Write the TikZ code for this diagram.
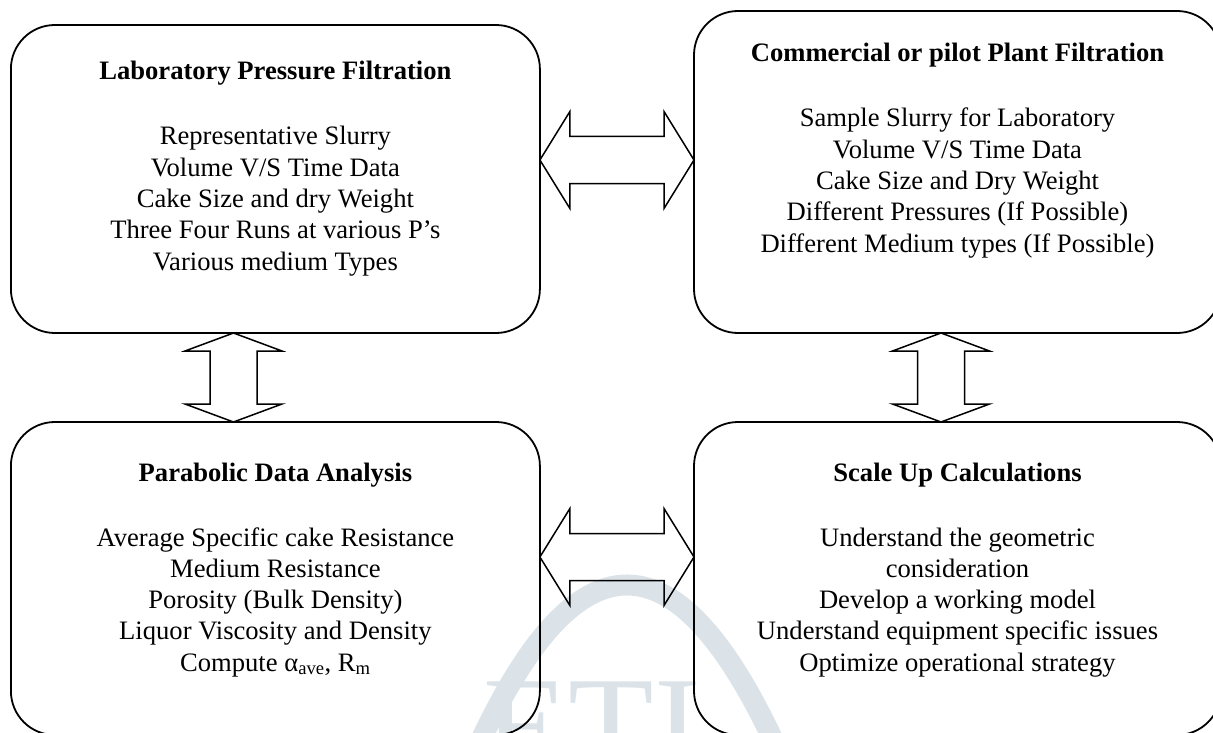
\documentclass[tikz,border=0pt]{standalone}
\usepackage{fontspec}
\setmainfont{Liberation Serif}
\usetikzlibrary{calc}
\definecolor{wmark}{HTML}{DCE3E8}
\begin{document}
\begin{tikzpicture}[x=1pt,y=-1pt,
  box/.style={draw, line width=1.8pt, rounded corners=44pt, outer sep=0pt, inner sep=0pt},
  head/.style={anchor=base, inner sep=0pt, font=\fontsize{26.6pt}{31.3pt}\selectfont\bfseries},
  body/.style={anchor=base, inner sep=0pt, font=\fontsize{26.6pt}{31.3pt}\selectfont},
  blockarrow/.style={draw, line width=1.5pt, line join=miter},
  hdbl/.style={blockarrow, to path={
    -- ($(\tikztostart)+(30,-48.5)$) -- ($(\tikztostart)+(30,-23.5)$)
    -- ($(\tikztotarget)+(-30,-23.5)$) -- ($(\tikztotarget)+(-30,-48.5)$)
    -- (\tikztotarget)
    -- ($(\tikztotarget)+(-30,48.5)$) -- ($(\tikztotarget)+(-30,23.5)$)
    -- ($(\tikztostart)+(30,23.5)$) -- ($(\tikztostart)+(30,48.5)$) -- cycle}},
  vdbl/.style={blockarrow, to path={
    -- ($(\tikztostart)+(48.5,18)$) -- ($(\tikztostart)+(23.5,18)$)
    -- ($(\tikztotarget)+(23.5,-18)$) -- ($(\tikztotarget)+(48.5,-18)$)
    -- (\tikztotarget)
    -- ($(\tikztotarget)+(-48.5,-18)$) -- ($(\tikztotarget)+(-23.5,-18)$)
    -- ($(\tikztostart)+(-23.5,18)$) -- ($(\tikztostart)+(-48.5,18)$) -- cycle}}
]
\useasboundingbox (0,0) rectangle (1213,733);
\clip (0,0) rectangle (1213,733);

% faint logo behind the diagram
\draw[wmark, line width=21pt] (470,764) .. controls (574.7,525.3) and (679.3,525.3) .. (784,764);
\node[wmark, anchor=base, inner sep=0pt, font=\fontsize{140pt}{140pt}\selectfont] (logo) at (592,773) {ETI};

% the four stages
\node[box, minimum width=529pt, minimum height=308pt] (lab)   at (275.4,179) {};
\node[box, minimum width=527pt, minimum height=322pt] (plant) at (957.5,172) {};
\node[box, minimum width=529pt, minimum height=313pt] (para)  at (275.4,578.5) {};
\node[box, minimum width=527pt, minimum height=313pt] (scale) at (957.5,578.5) {};

% texts
\node[head] (lab-h) at (lab.north |- 0,80) {Laboratory Pressure Filtration};
\foreach \t [count=\i] in {Representative Slurry, Volume V/S Time Data,
    Cake Size and dry Weight, Three Four Runs at various P’s, Various medium Types}
  \node[body] (lab-\i) at ($(lab-h.base)+(0,{65+(\i-1)*31.3})$) {\t};

\node[head] (plant-h) at (plant.north |- 0,62) {Commercial or pilot Plant Filtration};
\foreach \t [count=\i] in {Sample Slurry for Laboratory, Volume V/S Time Data,
    Cake Size and Dry Weight, Different Pressures (If Possible),
    Different Medium types (If Possible)}
  \node[body] (plant-\i) at ($(plant-h.base)+(0,{65+(\i-1)*31.3})$) {\t};

\node[head] (para-h) at (para.north |- 0,481) {Parabolic Data Analysis};
\foreach \t [count=\i] in {Average Specific cake Resistance, Medium Resistance,
    Porosity (Bulk Density), Liquor Viscosity and Density,
    {Compute α\textsubscript{ave}, R\textsubscript{m}}}
  \node[body] (para-\i) at ($(para-h.base)+(0,{65+(\i-1)*31.3})$) {\t};

\node[head] (scale-h) at (scale.north |- 0,481) {Scale Up Calculations};
\foreach \t [count=\i] in {Understand the geometric, consideration,
    Develop a working model, Understand equipment specific issues,
    Optimize operational strategy}
  \node[body] (scale-\i) at ($(scale-h.base)+(0,{65+(\i-1)*31.3})$) {\t};

% two-way block arrows between the stages
\coordinate (a1) at (lab.east |- 0,160);
\coordinate (b1) at (plant.west |- 0,160);
\draw[hdbl] (a1) to (b1);

\coordinate (a2) at (para.east |- 0,557);
\coordinate (b2) at (scale.west |- 0,557);
\draw[hdbl] (a2) to (b2);

\coordinate (a3) at (lab.south -| 233.5,0);
\coordinate (b3) at (para.north -| 233.5,0);
\draw[vdbl] (a3) to (b3);

\coordinate (a4) at (plant.south -| 941,0);
\coordinate (b4) at (scale.north -| 941,0);
\draw[vdbl] (a4) to (b4);
\end{tikzpicture}
\end{document}
